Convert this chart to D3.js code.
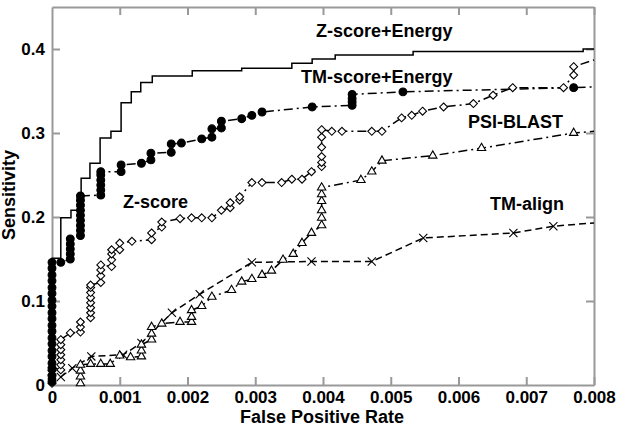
<!DOCTYPE html>
<html lang="en">
<head>
<meta charset="UTF-8">
<title>Sensitivity vs False Positive Rate</title>
<script src="https://d3js.org/d3.v7.min.js"></script>
<style>
  body { margin: 0; background: #fff; }
  svg text {
    font-family: Arial, "Liberation Sans", Helvetica, sans-serif;
    font-weight: bold;
    fill: #000;
  }
  .axis path, .axis line { stroke: #999; stroke-width: 2; fill: none; }
  .axis text { font-size: 17px; }
  .series { fill: none; stroke: #000; stroke-width: 1.5; }
  .label { font-size: 18px; }
</style>
</head>
<body>
<script>
// tick labels
var xTicks = [0, 0.001, 0.002, 0.003, 0.004, 0.005, 0.006, 0.007, 0.008];
var xTickLabels = ["0", "0.001", "0.002", "0.003", "0.004", "0.005", "0.006", "0.007", "0.008"];
var yTicks = [0, 0.1, 0.2, 0.3, 0.4];
var yTickLabels = ["0", "0.1", "0.2", "0.3", "0.4"];

// Z-score+Energy (solid step line)
var zscoreEnergy = [
  [0, 0], [0, 0.151], [0.00013, 0.199], [0.00028, 0.208], [0.00043, 0.246],
  [0.00056, 0.264], [0.00071, 0.294], [0.00087, 0.302], [0.00102, 0.336],
  [0.00117, 0.349], [0.00131, 0.360], [0.00148, 0.368], [0.00207, 0.374],
  [0.0028, 0.377], [0.00354, 0.383], [0.00384, 0.388], [0.00418, 0.393],
  [0.00533, 0.397], [0.00784, 0.400], [0.008, 0.400]
];

// TM-score+Energy (filled circles)
var tmscoreEnergy = [
  [0, 0.004], [0, 0.011], [0, 0.019], [0, 0.026], [0, 0.034], [0, 0.041],
  [0, 0.049], [0, 0.056], [0, 0.064], [0, 0.071], [0, 0.079], [0, 0.086],
  [0, 0.094], [0, 0.101], [0, 0.109], [0, 0.116], [0, 0.124], [0, 0.131],
  [0, 0.139], [0, 0.146], [0.00013, 0.146],
  [0.00027, 0.150], [0.00027, 0.156], [0.00027, 0.162], [0.00027, 0.168], [0.00027, 0.174],
  [0.00042, 0.178], [0.00042, 0.184], [0.00042, 0.190], [0.00042, 0.196], [0.00042, 0.202],
  [0.00042, 0.208], [0.00042, 0.214], [0.00042, 0.220], [0.00042, 0.225],
  [0.00072, 0.226], [0.00072, 0.232], [0.00072, 0.238], [0.00072, 0.244], [0.00072, 0.250],
  [0.00072, 0.254], [0.00102, 0.254], [0.00102, 0.262], [0.00132, 0.264],
  [0.00146, 0.268], [0.00146, 0.276], [0.00176, 0.277], [0.00176, 0.287],
  [0.00191, 0.288], [0.00221, 0.293], [0.00236, 0.295], [0.00236, 0.305],
  [0.0025, 0.306], [0.0025, 0.314], [0.0028, 0.317], [0.00295, 0.321],
  [0.0031, 0.325], [0.00384, 0.331], [0.00443, 0.333], [0.00443, 0.337],
  [0.00443, 0.341], [0.00443, 0.346], [0.00518, 0.349], [0.0077, 0.354],
  [0.008, 0.355]
];

// Z-score (open diamonds)
var zscore = [
  [0, 0.002], [0, 0.007], [0, 0.012], [0, 0.017], [0, 0.021],
  [0.00013, 0.018], [0.00013, 0.024], [0.00013, 0.030], [0.00013, 0.036],
  [0.00013, 0.042], [0.00013, 0.048], [0.00013, 0.054], [0.00027, 0.062],
  [0.00042, 0.063], [0.00042, 0.069], [0.00042, 0.075],
  [0.00057, 0.080], [0.00057, 0.086], [0.00057, 0.092], [0.00057, 0.098],
  [0.00057, 0.104], [0.00057, 0.110], [0.00057, 0.116], [0.00057, 0.119],
  [0.00072, 0.122], [0.00072, 0.130], [0.00072, 0.137], [0.00072, 0.143],
  [0.00088, 0.141], [0.00088, 0.149], [0.00088, 0.156], [0.00088, 0.161],
  [0.001, 0.161], [0.001, 0.169], [0.00118, 0.171], [0.00147, 0.173],
  [0.00147, 0.181], [0.00162, 0.188], [0.00162, 0.194], [0.00189, 0.198],
  [0.00206, 0.199], [0.00221, 0.199], [0.00236, 0.199], [0.0025, 0.208],
  [0.00263, 0.211], [0.00263, 0.217], [0.00277, 0.220], [0.00277, 0.224],
  [0.00295, 0.241], [0.0031, 0.241], [0.00339, 0.241], [0.00354, 0.245],
  [0.00369, 0.245], [0.00383, 0.254], [0.00398, 0.260], [0.00398, 0.265],
  [0.00398, 0.272], [0.00398, 0.283], [0.00398, 0.295], [0.00398, 0.304],
  [0.00413, 0.302], [0.00428, 0.302], [0.00472, 0.302], [0.00487, 0.302],
  [0.00516, 0.318], [0.00531, 0.321], [0.00547, 0.326], [0.00578, 0.331],
  [0.00622, 0.335], [0.00651, 0.345], [0.0068, 0.354], [0.00755, 0.354],
  [0.0077, 0.369], [0.0077, 0.379], [0.008, 0.387]
];

// PSI-BLAST (open triangles)
var psiblast = [
  [0.00042, 0.002], [0.00042, 0.010], [0.00042, 0.017], [0.00042, 0.024],
  [0.00057, 0.025], [0.00072, 0.025], [0.00086, 0.025], [0.001, 0.035],
  [0.00116, 0.033], [0.00132, 0.034], [0.00132, 0.041], [0.00132, 0.048],
  [0.00147, 0.054], [0.00147, 0.061], [0.00147, 0.069], [0.00162, 0.073],
  [0.00189, 0.075], [0.00206, 0.075], [0.00206, 0.081], [0.00206, 0.089],
  [0.00221, 0.094], [0.00236, 0.105], [0.00265, 0.113], [0.0028, 0.123],
  [0.00295, 0.126], [0.0031, 0.131], [0.00324, 0.136], [0.00341, 0.149],
  [0.00356, 0.156], [0.00369, 0.169], [0.00383, 0.181],
  [0.00398, 0.190], [0.00398, 0.199], [0.00398, 0.208], [0.00398, 0.219],
  [0.00398, 0.227], [0.00398, 0.235], [0.00456, 0.244], [0.00472, 0.254],
  [0.00487, 0.267], [0.00562, 0.273], [0.00634, 0.282], [0.0077, 0.300],
  [0.008, 0.302]
];

// TM-align (crosses)
var tmalign = [
  [0.00013, 0.0095], [0.0003, 0.020], [0.00058, 0.034], [0.00105, 0.036],
  [0.00132, 0.050], [0.00177, 0.086], [0.00218, 0.108], [0.00295, 0.146],
  [0.00383, 0.147], [0.00472, 0.147], [0.00548, 0.175], [0.00681, 0.181],
  [0.0074, 0.189], [0.008, 0.193]
];

var width = 620, height = 430;
var plotLeft = 52, plotRight = 594, plotTop = 7, plotBottom = 385;

var svg = d3.select("body").append("svg")
  .attr("width", width)
  .attr("height", height);

var x = d3.scaleLinear().domain([0, 0.008]).range([plotLeft, plotRight]);
var y = d3.scaleLinear().domain([0, 0.45]).range([plotBottom, plotTop]);

// frame with inward ticks on all four sides
svg.append("g").attr("class", "axis")
  .attr("transform", "translate(0," + plotBottom + ")")
  .call(d3.axisBottom(x).tickValues(xTicks).tickSizeInner(-8).tickSizeOuter(0)
    .tickPadding(6).tickFormat(function(d, i) { return xTickLabels[i]; }));

svg.append("g").attr("class", "axis")
  .attr("transform", "translate(0," + plotTop + ")")
  .call(d3.axisTop(x).tickValues(xTicks).tickSizeInner(-8).tickSizeOuter(0).tickFormat(""));

svg.append("g").attr("class", "axis")
  .attr("transform", "translate(" + plotLeft + ",0)")
  .call(d3.axisLeft(y).tickValues(yTicks).tickSizeInner(-8).tickSizeOuter(0)
    .tickPadding(7).tickFormat(function(d, i) { return yTickLabels[i]; }));

svg.append("g").attr("class", "axis")
  .attr("transform", "translate(" + plotRight + ",0)")
  .call(d3.axisRight(y).tickValues(yTicks).tickSizeInner(-8).tickSizeOuter(0).tickFormat(""));

svg.selectAll(".axis .tick").filter(function(d) { return d === 0; }).select("line").remove();

// lines
var line = d3.line().x(function(d) { return x(d[0]); }).y(function(d) { return y(d[1]); });

svg.append("path").datum(zscoreEnergy).attr("class", "series")
  .attr("stroke-width", 2)
  .attr("d", line.curve(d3.curveStepAfter));
line.curve(d3.curveLinear);

svg.append("path").datum(tmalign).attr("class", "series")
  .attr("stroke-dasharray", "7,4").attr("d", line);
svg.append("path").datum(psiblast).attr("class", "series")
  .attr("stroke-dasharray", "9,4,2,4").attr("d", line);
svg.append("path").datum(zscore).attr("class", "series")
  .attr("stroke-dasharray", "9,4,2,4").attr("d", line);
svg.append("path").datum(tmscoreEnergy).attr("class", "series")
  .attr("stroke-dasharray", "9,4,2,4").attr("d", line);

// markers (none on the right edge end points)
function inside(d) { return d[0] < 0.008; }

function markers(data, type, size, filled) {
  svg.append("g").selectAll("path")
    .data(data.filter(inside))
    .enter().append("path")
    .attr("transform", function(d) { return "translate(" + x(d[0]) + "," + y(d[1]) + ")"; })
    .attr("d", d3.symbol().type(type).size(size))
    .attr("fill", filled ? "#000" : "#fff")
    .attr("stroke", "#000")
    .attr("stroke-width", 1.1);
}

markers(tmalign, d3.symbolTimes || d3.symbolCross, 45, false);
markers(psiblast, d3.symbolTriangle2 || d3.symbolTriangle, 50, false);
markers(zscore, d3.symbolDiamond2 || d3.symbolDiamond, 40, false);
markers(tmscoreEnergy, d3.symbolCircle, 48, true);

// series labels
svg.append("text").attr("class", "label").attr("x", 316).attr("y", 37).text("Z-score+Energy");
svg.append("text").attr("class", "label").attr("x", 301).attr("y", 83).text("TM-score+Energy");
svg.append("text").attr("class", "label").attr("x", 468).attr("y", 128).text("PSI-BLAST");
svg.append("text").attr("class", "label").attr("x", 490).attr("y", 210).text("TM-align");
svg.append("text").attr("class", "label").attr("x", 123).attr("y", 208).text("Z-score");

// axis titles
svg.append("text").attr("class", "label")
  .attr("text-anchor", "middle")
  .attr("transform", "translate(15,195) rotate(-90)")
  .text("Sensitivity");

svg.append("text").attr("class", "label")
  .attr("text-anchor", "middle")
  .attr("x", 322).attr("y", 423)
  .text("False Positive Rate");
</script>
</body>
</html>
